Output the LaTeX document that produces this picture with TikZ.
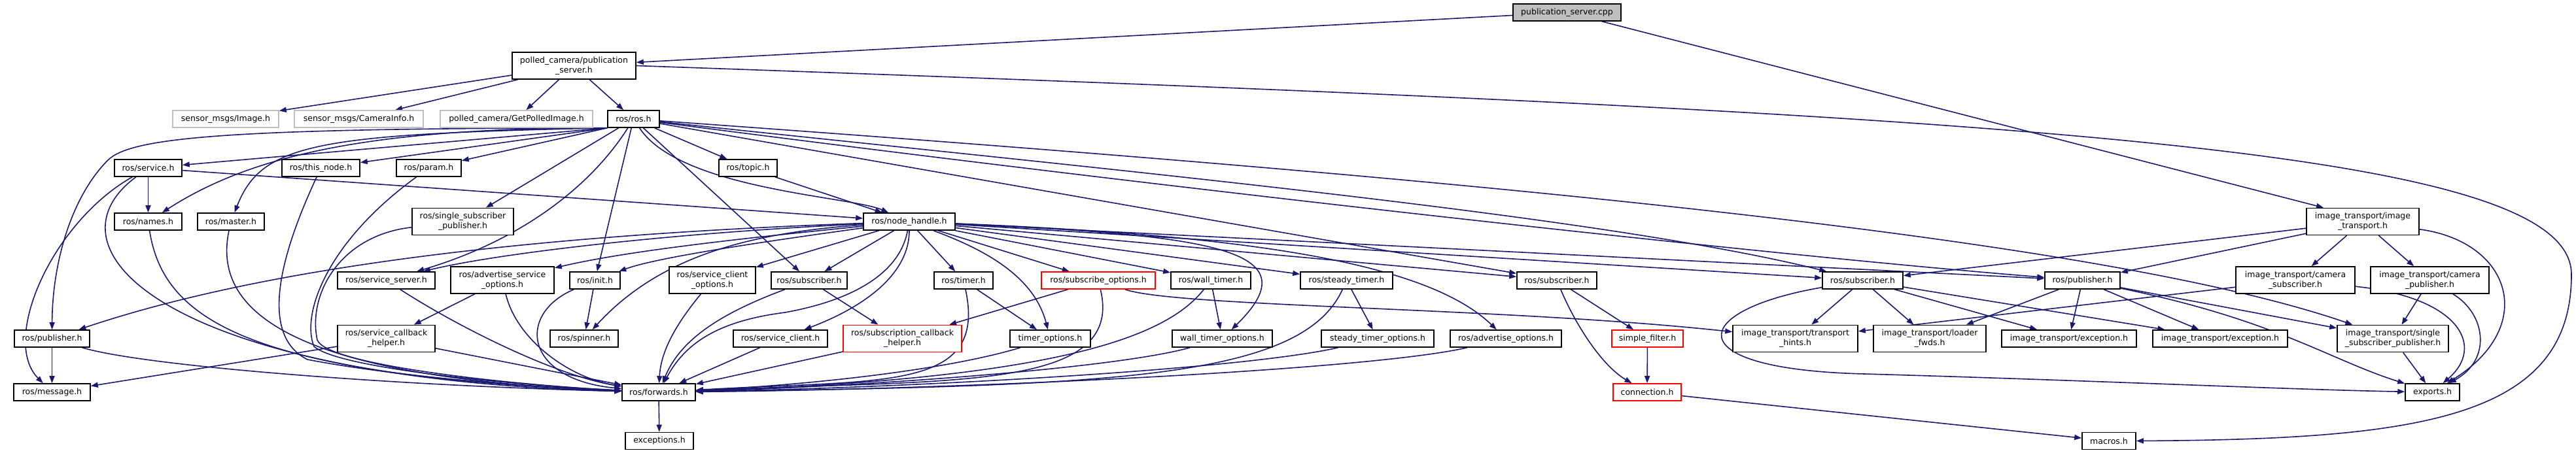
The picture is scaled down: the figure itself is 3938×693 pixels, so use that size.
\documentclass[tikz,border=0pt]{standalone}
\usepackage{fontspec}
\setmainfont{DejaVu Sans}
\usetikzlibrary{arrows.meta,calc}
\definecolor{edgec}{RGB}{25,25,112}
\definecolor{grayb}{RGB}{191,191,191}
\pgfdeclarelayer{bg}
\pgfdeclarelayer{paper}
\pgfsetlayers{paper,bg,main}
\begin{document}
\begin{tikzpicture}[x=1pt,y=-1pt,
  box/.style={draw=black,line width=1.6pt,fill=white,rectangle,inner sep=0pt,align=center,
    font=\fontsize{12.5}{14.7}\selectfont,minimum height=26pt},
  two/.style={minimum height=41pt},
  gbox/.style={box,draw=grayb},
  rbox/.style={box,draw=red},
  edge/.style={draw=edgec,line width=1.6pt,-{Triangle[length=11pt,width=8pt]}},
]
\begin{pgfonlayer}{paper}
\fill[white] (0,0) rectangle (3938,693);
\end{pgfonlayer}
\useasboundingbox (0,0) rectangle (3938,693);

% nodes
\node[box,fill=grayb,minimum width=165pt] (pubcpp) at (2395.5,19) {publication\_server.cpp};
\node[box,two,minimum width=189pt] (pubh) at (877.5,100.5) {polled\_camera/publication\\\_server.h};
\node[gbox,minimum width=162pt] (img) at (345,182) {sensor\_msgs/Image.h};
\node[gbox,minimum width=197pt] (caminfo) at (548.5,182) {sensor\_msgs/CameraInfo.h};
\node[gbox,minimum width=233pt] (getpolled) at (789.5,182) {polled\_camera/GetPolledImage.h};
\node[box,minimum width=79pt] (ros) at (968.5,182) {ros/ros.h};
\node[box,minimum width=103pt] (service) at (226.5,257) {ros/service.h};
\node[box,minimum width=119pt] (thisnode) at (490.5,257) {ros/this\_node.h};
\node[box,minimum width=99pt] (param) at (655.5,257) {ros/param.h};
\node[box,minimum width=89pt] (topic) at (1143.5,257) {ros/topic.h};
\node[box,minimum width=103pt] (names) at (226.5,339) {ros/names.h};
\node[box,minimum width=102pt] (master) at (353,339) {ros/master.h};
\node[box,two,minimum width=155pt] (ssp) at (707.5,339) {ros/single\_subscriber\\\_publisher.h};
\node[box,minimum width=140pt] (nh) at (1390,339) {ros/node\_handle.h};
\node[box,two,minimum width=172pt] (it) at (3612,339) {image\_transport/image\\\_transport.h};
\node[box,minimum width=149pt] (srvserver) at (590.5,429) {ros/service\_server.h};
\node[box,two,minimum width=158pt] (aso) at (768,428.5) {ros/advertise\_service\\\_options.h};
\node[box,minimum width=77pt] (init) at (909.5,429) {ros/init.h};
\node[box,two,minimum width=132pt] (sco) at (1089,428.5) {ros/service\_client\\\_options.h};
\node[box,minimum width=116pt] (sub1) at (1237,429) {ros/subscriber.h};
\node[box,minimum width=90pt] (timer) at (1473,429) {ros/timer.h};
\node[rbox,minimum width=174pt] (subopt) at (1679,429) {ros/subscribe\_options.h};
\node[box,minimum width=122pt] (walltimer) at (1851,429) {ros/wall\_timer.h};
\node[box,minimum width=141pt] (steadytimer) at (2058.5,429) {ros/steady\_timer.h};
\node[box,minimum width=122pt] (sub2) at (2380,429) {ros/subscriber.h};
\node[box,minimum width=123pt] (sub3) at (2847.5,429) {ros/subscriber.h};
\node[box,minimum width=115pt] (pub2) at (3183.5,429) {ros/publisher.h};
\node[box,two,minimum width=182pt] (camsub) at (3509,428.5) {image\_transport/camera\\\_subscriber.h};
\node[box,two,minimum width=181pt] (campub) at (3714.5,428.5) {image\_transport/camera\\\_publisher.h};
\node[box,minimum width=115pt] (pub1) at (79.5,518) {ros/publisher.h};
\node[box,two,minimum width=149pt] (sch) at (590.5,518) {ros/service\_callback\\\_helper.h};
\node[box,minimum width=104pt] (spinner) at (893,518) {ros/spinner.h};
\node[box,minimum width=144pt] (srvclient) at (1193,518) {ros/service\_client.h};
\node[rbox,two,minimum width=181pt] (subcb) at (1379.5,518) {ros/subscription\_callback\\\_helper.h};
\node[box,minimum width=123pt] (timeropt) at (1605.5,518) {timer\_options.h};
\node[box,minimum width=153pt] (wtopt) at (1868.5,518) {wall\_timer\_options.h};
\node[box,minimum width=172pt] (stopt) at (2106,518) {steady\_timer\_options.h};
\node[box,minimum width=170pt] (advopt) at (2302,518) {ros/advertise\_options.h};
\node[rbox,minimum width=109pt] (simple) at (2518.5,518) {simple\_filter.h};
\node[box,two,minimum width=191pt] (hints) at (2744.5,518) {image\_transport/transport\\\_hints.h};
\node[box,two,minimum width=172pt] (loader) at (2950,518) {image\_transport/loader\\\_fwds.h};
\node[box,minimum width=206pt] (exc1) at (3163,518) {image\_transport/exception.h};
\node[box,minimum width=206pt] (exc2) at (3394,518) {image\_transport/exception.h};
\node[box,two,minimum width=170pt] (itssp) at (3658,518) {image\_transport/single\\\_subscriber\_publisher.h};
\node[box,minimum width=117pt] (message) at (79.5,600) {ros/message.h};
\node[box,minimum width=112pt] (forwards) at (1007,600) {ros/forwards.h};
\node[rbox,minimum width=104pt] (connection) at (2518,600) {connection.h};
\node[box,minimum width=83pt] (exports) at (3718.5,600) {exports.h};
\node[box,minimum width=104pt] (exceptions) at (1008,674.5) {exceptions.h};
\node[box,minimum width=82pt] (macros) at (3224,674.5) {macros.h};

\begin{pgfonlayer}{bg}
% publication_server.cpp / publication_server.h
\draw[edge] (pubcpp) -- (pubh);
\draw[edge] (pubcpp) -- ($(it.north)+(-60,0)$);
\draw[edge] (pubh) -- (img);
\draw[edge] (pubh) -- (caminfo);
\draw[edge] (pubh) -- (getpolled);
\draw[edge] (pubh) -- (ros);
\draw[edge] (pubh.east) .. controls (3100,175) and (3931,225) .. (3931,420) .. controls (3931,640) and (3700,672) .. (macros.east);

% ros/ros.h
\draw[edge] (ros.south west) -- (service);
\draw[edge] (ros.south west) -- (thisnode);
\draw[edge] (ros.south west) -- (param);
\draw[edge] (ros) -- (topic);
\draw[edge] (ros.south west) .. controls (560,195) and (380,240) .. (names);
\draw[edge] (ros.south west) .. controls (480,205) and (400,220) .. (master);
\draw[edge] (ros.south west) .. controls (350,196) and (200,210) .. (165,245) .. controls (110,300) and (80,400) .. (pub1);
\draw[edge] (ros) -- (ssp);
\draw[edge] (ros) .. controls (900,290) and (790,370) .. (srvserver);
\draw[edge] (ros) -- (init);
\draw[edge] (ros) -- (sub1);
\draw[edge] (ros) .. controls (1040,290) and (1300,300) .. (nh);
\draw[edge] (ros) -- (sub2);
\draw[edge] (ros) .. controls (1700,260) and (2450,330) .. (sub3);
\draw[edge] (ros) .. controls (1800,290) and (2700,390) .. (pub2);
\draw[edge] (ros) .. controls (2200,270) and (3200,360) .. (itssp);
\draw[edge] (topic) -- (nh);

% ros/service.h
\draw[edge] (service) -- (names);
\draw[edge] (service) -- (nh);
\draw[edge] (service) .. controls (80,340) and (0,520) .. (message);
\draw[edge] (service) .. controls (60,380) and (250,580) .. (forwards);

% into ros/forwards.h from the left
\draw[edge] (names) .. controls (250,490) and (380,575) .. (forwards);
\draw[edge] (master) .. controls (325,470) and (430,578) .. (forwards);
\draw[edge] (thisnode) .. controls (410,430) and (410,520) .. (470,550) .. controls (600,575) and (800,592) .. (forwards);
\draw[edge] (param) .. controls (500,370) and (460,480) .. (480,530) .. controls (520,565) and (800,590) .. (forwards);
\draw[edge] (ssp) .. controls (520,360) and (470,450) .. (485,520) .. controls (500,560) and (800,590) .. (forwards);
\draw[edge] (pub1) -- (message);
\draw[edge] (pub1) .. controls (220,560) and (600,590) .. (forwards);
\draw[edge] (sch) -- (forwards);
\draw[edge] (sch) -- (message);
\draw[edge] (srvserver) .. controls (700,500) and (850,575) .. (forwards);
\draw[edge] (aso) -- (sch);
\draw[edge] (aso) .. controls (790,520) and (870,578) .. (forwards);
\draw[edge] (init) -- (spinner);
\draw[edge] (init) .. controls (790,480) and (800,580) .. (forwards);
\draw[edge] (sco) .. controls (1030,500) and (1010,540) .. (forwards);
\draw[edge] (sub1) -- ($(subcb.north)+(-37,0)$);
\draw[edge] (sub1) .. controls (1100,480) and (1040,520) .. (forwards);

% into ros/forwards.h from the right
\draw[edge] (srvclient) -- (forwards);
\draw[edge] (subcb) -- (forwards);
\draw[edge] (subopt) -- (subcb);
\draw[edge] (subopt) .. controls (1720,600) and (1450,580) .. (forwards);
\draw[edge] (subopt) .. controls (1800,470) and (2300,470) .. (hints);
\draw[edge] (timer) -- (timeropt);
\draw[edge] (timer) .. controls (1510,600) and (1350,580) .. (forwards);
\draw[edge] (timeropt) .. controls (1450,565) and (1250,588) .. (forwards);
\draw[edge] (walltimer) -- (wtopt);
\draw[edge] (walltimer) .. controls (1780,520) and (1600,580) .. (forwards);
\draw[edge] (wtopt) .. controls (1700,565) and (1300,592) .. (forwards);
\draw[edge] (steadytimer) -- (stopt);
\draw[edge] (steadytimer) .. controls (1990,580) and (1700,590) .. (forwards);
\draw[edge] (stopt) .. controls (1900,565) and (1400,593) .. (forwards);
\draw[edge] (advopt) .. controls (2100,565) and (1500,595) .. (forwards);
\draw[edge] (forwards) -- (exceptions);

% ros/node_handle.h
\draw[edge] (nh) .. controls (800,360) and (400,410) .. (pub1);
\draw[edge] (nh) .. controls (1000,358) and (750,390) .. (srvserver);
\draw[edge] (nh) .. controls (1100,368) and (950,386) .. (aso);
\draw[edge] (nh) .. controls (1150,372) and (1000,395) .. (init);
\draw[edge] (nh) .. controls (1150,356) and (1010,390) .. (spinner);
\draw[edge] (nh) -- (sco);
\draw[edge] (nh) -- (sub1);
\draw[edge] (nh) .. controls (1390,420) and (1320,470) .. (srvclient);
\draw[edge] (nh) .. controls (1375,420) and (1300,460) .. (1200,478) .. controls (1090,492) and (1045,530) .. (forwards);
\draw[edge] (nh) -- (timer);
\draw[edge] (nh) -- (subopt);
\draw[edge] (nh) -- (walltimer);
\draw[edge] (nh) -- (steadytimer);
\draw[edge] (nh) .. controls (1500,380) and (1580,420) .. (timeropt);
\draw[edge] (nh) .. controls (1850,360) and (2010,380) .. (wtopt);
\draw[edge] (nh) .. controls (1900,360) and (2180,400) .. (advopt);
\draw[edge] (nh) -- (sub2);
\draw[edge] (nh) -- (sub3);
\draw[edge] (nh) -- (pub2);

% subscriber.h (middle)
\draw[edge] (sub2) -- (simple);
\draw[edge] (sub2) .. controls (2410,500) and (2450,560) .. (connection);
\draw[edge] (simple) -- (connection);
\draw[edge] (connection) -- (macros);

% image_transport side
\draw[edge] (sub3) -- (hints);
\draw[edge] (sub3) -- (loader);
\draw[edge] (sub3) -- (exc1);
\draw[edge] (sub3) -- (exc2);
\draw[edge] (sub3) .. controls (2580,475) and (2560,565) .. (2850,572) .. controls (3200,582) and (3500,596) .. (exports);
\draw[edge] (pub2) -- (loader);
\draw[edge] (pub2) -- (exc1);
\draw[edge] (pub2) -- (exc2);
\draw[edge] (pub2) -- (itssp);
\draw[edge] (pub2) .. controls (3480,490) and (3560,550) .. (exports);
\draw[edge] (it) -- (sub3);
\draw[edge] (it) -- (pub2);
\draw[edge] (it) -- (camsub);
\draw[edge] (it) -- (campub);
\draw[edge] (it) .. controls (3840,370) and (3880,500) .. (exports);
\draw[edge] (camsub) -- (hints);
\draw[edge] (camsub) .. controls (3760,455) and (3800,530) .. (exports);
\draw[edge] (campub) -- (itssp);
\draw[edge] (campub) .. controls (3800,480) and (3810,550) .. (exports);
\draw[edge] (itssp) -- (exports);
\end{pgfonlayer}
\end{tikzpicture}
\end{document}
